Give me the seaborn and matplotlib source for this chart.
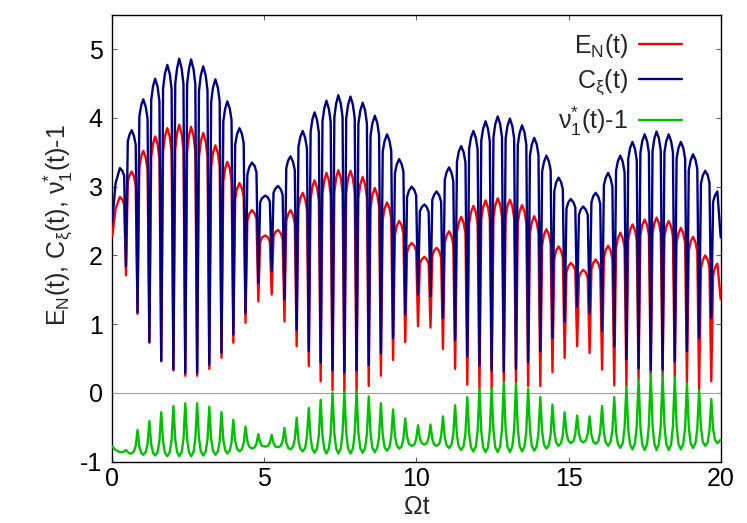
import numpy as np
import pandas as pd
import matplotlib
matplotlib.use('Agg')
import matplotlib.pyplot as plt
import seaborn as sns

# ---- data (x = Omega t) ----
# tops of the arches (C and E maxima, nu minima)
t_peak = [0.25, 0.64, 1.02, 1.41, 1.81, 2.20, 2.59, 2.99, 3.39, 3.78,
          4.18, 4.59, 5.03, 5.45, 5.86, 6.26, 6.65, 7.04, 7.43, 7.83,
          8.23, 8.63, 9.03, 9.43, 9.84, 10.26, 10.66, 11.07, 11.47, 11.87,
          12.27, 12.67, 13.07, 13.47, 13.87, 14.27, 14.67, 15.07, 15.48, 15.89,
          16.30, 16.70, 17.10, 17.50, 17.89, 18.29, 18.69, 19.09, 19.49, 19.89]
# narrow dips between the arches (C and E minima, nu spikes)
t_dip = [0.45, 0.83, 1.22, 1.61, 2.01, 2.40, 2.79, 3.19, 3.59, 3.98,
         4.38, 4.80, 5.24, 5.66, 6.06, 6.46, 6.85, 7.24, 7.63, 8.03,
         8.43, 8.83, 9.23, 9.63, 10.05, 10.46, 10.87, 11.27, 11.67, 12.07,
         12.47, 12.87, 13.27, 13.67, 14.07, 14.47, 14.87, 15.28, 15.69, 16.10,
         16.50, 16.90, 17.30, 17.70, 18.09, 18.49, 18.89, 19.29, 19.69]
# shoulders just left / right of each dip
t_left = [0.39, 0.77, 1.16, 1.55, 1.95, 2.34, 2.73, 3.13, 3.53, 3.92,
          4.32, 4.74, 5.18, 5.60, 6.00, 6.40, 6.79, 7.18, 7.57, 7.97,
          8.37, 8.77, 9.17, 9.57, 9.99, 10.40, 10.81, 11.21, 11.61, 12.01,
          12.41, 12.81, 13.21, 13.61, 14.01, 14.41, 14.81, 15.22, 15.63, 16.04,
          16.44, 16.84, 17.24, 17.64, 18.03, 18.43, 18.83, 19.23, 19.63]
t_right = [0.51, 0.89, 1.28, 1.67, 2.07, 2.46, 2.85, 3.25, 3.65, 4.04,
           4.44, 4.86, 5.30, 5.72, 6.12, 6.52, 6.91, 7.30, 7.69, 8.09,
           8.49, 8.89, 9.29, 9.69, 10.11, 10.52, 10.93, 11.33, 11.73, 12.13,
           12.53, 12.93, 13.33, 13.73, 14.13, 14.53, 14.93, 15.34, 15.75, 16.16,
           16.56, 16.96, 17.36, 17.76, 18.15, 18.55, 18.95, 19.35, 19.75]
# points further out from each dip, on the arch tops
t_outer_left = [0.33, 0.71, 1.10, 1.49, 1.89, 2.28, 2.67, 3.07, 3.47, 3.86,
                4.26, 4.68, 5.12, 5.54, 5.94, 6.34, 6.73, 7.12, 7.51, 7.91,
                8.31, 8.71, 9.11, 9.51, 9.93, 10.34, 10.75, 11.15, 11.55, 11.95,
                12.35, 12.75, 13.15, 13.55, 13.95, 14.35, 14.75, 15.16, 15.57, 15.98,
                16.38, 16.78, 17.18, 17.58, 17.97, 18.37, 18.77, 19.17, 19.57]
t_outer_right = [0.57, 0.95, 1.34, 1.73, 2.13, 2.52, 2.91, 3.31, 3.71, 4.10,
                 4.50, 4.92, 5.36, 5.78, 6.18, 6.58, 6.97, 7.36, 7.75, 8.15,
                 8.55, 8.95, 9.35, 9.75, 10.17, 10.58, 10.99, 11.39, 11.79, 12.19,
                 12.59, 12.99, 13.39, 13.79, 14.19, 14.59, 14.99, 15.40, 15.81, 16.22,
                 16.62, 17.02, 17.42, 17.82, 18.21, 18.61, 19.01, 19.41, 19.81]
t_edge = [0.0, 0.11, 20.0]

# C_xi(t)
C_peak = [3.27, 3.82, 4.27, 4.57, 4.77, 4.86, 4.85, 4.75, 4.56, 4.24,
          3.85, 3.35, 2.87, 3.01, 3.44, 3.81, 4.08, 4.25, 4.33, 4.31,
          4.22, 4.03, 3.76, 3.40, 3.00, 2.74, 2.93, 3.28, 3.59, 3.81,
          3.95, 4.02, 3.99, 3.89, 3.71, 3.45, 3.13, 2.82, 2.71, 2.91,
          3.20, 3.45, 3.65, 3.76, 3.80, 3.76, 3.65, 3.47, 3.23, 2.93]
C_dip = [1.84, 1.17, 0.74, 0.47, 0.34, 0.29, 0.29, 0.41, 0.58, 0.85,
         1.16, 1.60, 1.77, 1.36, 0.92, 0.61, 0.44, 0.33, 0.30, 0.33,
         0.41, 0.58, 0.80, 1.14, 1.43, 1.41, 1.09, 0.77, 0.53, 0.40,
         0.33, 0.31, 0.35, 0.45, 0.61, 0.80, 1.04, 1.26, 1.16, 0.90,
         0.68, 0.49, 0.36, 0.33, 0.34, 0.46, 0.61, 0.80, 1.09]
C_left = [3.16, 3.61, 3.99, 4.24, 4.42, 4.49, 4.49, 4.40, 4.24, 3.97,
          3.63, 3.21, 2.78, 2.88, 3.24, 3.55, 3.79, 3.94, 4.01, 3.99,
          3.92, 3.75, 3.52, 3.22, 2.87, 2.63, 2.78, 3.08, 3.35, 3.54,
          3.66, 3.72, 3.70, 3.61, 3.46, 3.24, 2.96, 2.70, 2.59, 2.75,
          3.00, 3.21, 3.39, 3.49, 3.52, 3.50, 3.41, 3.26, 3.06]
C_right = [3.66, 4.02, 4.26, 4.43, 4.50, 4.49, 4.39, 4.23, 3.95, 3.61,
           3.17, 2.77, 2.91, 3.27, 3.58, 3.80, 3.95, 4.01, 3.99, 3.91,
           3.74, 3.51, 3.19, 2.85, 2.64, 2.81, 3.10, 3.36, 3.55, 3.67,
           3.72, 3.70, 3.61, 3.45, 3.22, 2.94, 2.68, 2.59, 2.77, 3.02,
           3.23, 3.40, 3.49, 3.52, 3.50, 3.41, 3.24, 3.04, 2.78]
C_outer_left = [3.23, 3.74, 4.16, 4.45, 4.64, 4.72, 4.71, 4.62, 4.44, 4.14,
                3.77, 3.30, 2.84, 2.96, 3.36, 3.71, 3.97, 4.13, 4.21, 4.19,
                4.11, 3.93, 3.67, 3.33, 2.95, 2.70, 2.87, 3.20, 3.50, 3.71,
                3.84, 3.91, 3.88, 3.79, 3.62, 3.37, 3.07, 2.77, 2.66, 2.85,
                3.12, 3.36, 3.55, 3.66, 3.70, 3.66, 3.56, 3.39, 3.17]
C_outer_right = [3.76, 4.18, 4.46, 4.64, 4.72, 4.71, 4.62, 4.44, 4.13, 3.76,
                 3.28, 2.83, 2.97, 3.38, 3.72, 3.98, 4.14, 4.21, 4.19, 4.10,
                 3.92, 3.66, 3.32, 2.94, 2.70, 2.88, 3.21, 3.51, 3.71, 3.84,
                 3.91, 3.88, 3.78, 3.61, 3.36, 3.06, 2.77, 2.67, 2.86, 3.13,
                 3.37, 3.56, 3.66, 3.70, 3.66, 3.56, 3.38, 3.16, 2.87]
C_edge = [2.50, 3.05, 2.26]

# E_N(t)
E_peak = [2.85, 3.22, 3.52, 3.73, 3.85, 3.90, 3.87, 3.78, 3.60, 3.36,
          3.05, 2.66, 2.29, 2.37, 2.66, 2.91, 3.09, 3.20, 3.24, 3.23,
          3.14, 2.98, 2.77, 2.50, 2.18, 1.98, 2.11, 2.35, 2.56, 2.72,
          2.80, 2.83, 2.81, 2.73, 2.57, 2.38, 2.13, 1.89, 1.79, 1.94,
          2.14, 2.33, 2.45, 2.52, 2.55, 2.50, 2.40, 2.27, 2.00, 1.88]
E_dip = [1.71, 1.15, 0.73, 0.46, 0.33, 0.25, 0.25, 0.35, 0.51, 0.73,
         1.02, 1.33, 1.43, 1.04, 0.68, 0.39, 0.17, 0.04, 0.01, 0.01,
         0.10, 0.25, 0.48, 0.74, 0.97, 0.95, 0.64, 0.35, 0.12, 0.06,
         0.06, 0.17, 0.15, 0.10, 0.10, 0.30, 0.51, 0.68, 0.58, 0.34,
         0.11, 0.10, 0.19, 0.24, 0.24, 0.22, 0.15, 0.05, 0.17]
E_left = [2.74, 3.01, 3.24, 3.40, 3.50, 3.54, 3.51, 3.44, 3.29, 3.10,
          2.85, 2.53, 2.20, 2.24, 2.46, 2.66, 2.80, 2.88, 2.92, 2.91,
          2.84, 2.71, 2.54, 2.32, 2.06, 1.88, 1.96, 2.15, 2.32, 2.45,
          2.53, 2.56, 2.54, 2.47, 2.32, 2.17, 1.97, 1.77, 1.67, 1.78,
          1.94, 2.11, 2.22, 2.29, 2.32, 2.27, 2.18, 2.05, 1.82]
E_right = [3.07, 3.28, 3.43, 3.51, 3.54, 3.51, 3.43, 3.28, 3.08, 2.82,
           2.50, 2.19, 2.28, 2.50, 2.69, 2.82, 2.90, 2.92, 2.91, 2.83,
           2.69, 2.52, 2.30, 2.04, 1.88, 1.99, 2.18, 2.34, 2.46, 2.53,
           2.55, 2.55, 2.47, 2.32, 2.15, 1.95, 1.75, 1.68, 1.80, 1.96,
           2.11, 2.22, 2.29, 2.32, 2.27, 2.18, 2.06, 1.81, 1.71]
E_outer_left = [2.81, 3.15, 3.42, 3.62, 3.73, 3.77, 3.74, 3.66, 3.49, 3.27,
                2.98, 2.61, 2.26, 2.32, 2.59, 2.82, 2.99, 3.09, 3.13, 3.12,
                3.03, 2.88, 2.69, 2.44, 2.14, 1.94, 2.06, 2.28, 2.47, 2.63,
                2.70, 2.74, 2.72, 2.64, 2.48, 2.31, 2.07, 1.85, 1.75, 1.88,
                2.07, 2.25, 2.37, 2.44, 2.47, 2.42, 2.32, 2.19, 1.94]
E_outer_right = [3.17, 3.44, 3.62, 3.73, 3.78, 3.74, 3.66, 3.49, 3.26, 2.97,
                 2.60, 2.26, 2.34, 2.60, 2.83, 3.00, 3.09, 3.13, 3.12, 3.03,
                 2.88, 2.68, 2.43, 2.13, 1.94, 2.07, 2.29, 2.48, 2.63, 2.70,
                 2.73, 2.72, 2.64, 2.48, 2.30, 2.07, 1.84, 1.75, 1.89, 2.08,
                 2.25, 2.37, 2.44, 2.47, 2.42, 2.32, 2.20, 1.93, 1.82]
E_edge = [2.28, 2.68, 1.36]

# nu_1^*(t) - 1
nu_base = [-0.86, -0.88, -0.90, -0.91, -0.92, -0.92, -0.92, -0.91, -0.90, -0.88,
           -0.85, -0.81, -0.78, -0.79, -0.82, -0.85, -0.87, -0.88, -0.88, -0.88,
           -0.87, -0.86, -0.84, -0.81, -0.77, -0.75, -0.77, -0.80, -0.83, -0.85,
           -0.86, -0.86, -0.86, -0.85, -0.84, -0.81, -0.77, -0.73, -0.72, -0.74,
           -0.77, -0.80, -0.82, -0.83, -0.83, -0.83, -0.82, -0.80, -0.77, -0.73]
nu_spike = [-0.83, -0.54, -0.41, -0.28, -0.19, -0.15, -0.15, -0.20, -0.28, -0.39,
            -0.49, -0.60, -0.61, -0.51, -0.36, -0.22, -0.10, 0.00, 0.02, 0.02,
            -0.05, -0.15, -0.24, -0.37, -0.47, -0.46, -0.34, -0.18, -0.06, 0.06,
            0.07, 0.15, 0.14, 0.06, -0.06, -0.17, -0.28, -0.33, -0.34, -0.19,
            -0.06, 0.09, 0.20, 0.27, 0.27, 0.23, 0.14, 0.04, -0.09]
nu_left = [-0.85, -0.77, -0.74, -0.70, -0.68, -0.67, -0.67, -0.68, -0.70, -0.72,
           -0.73, -0.74, -0.72, -0.70, -0.67, -0.64, -0.62, -0.59, -0.58, -0.58,
           -0.60, -0.63, -0.64, -0.66, -0.67, -0.65, -0.63, -0.60, -0.58, -0.55,
           -0.55, -0.53, -0.53, -0.55, -0.58, -0.60, -0.61, -0.60, -0.59, -0.56,
           -0.54, -0.51, -0.48, -0.47, -0.47, -0.48, -0.50, -0.52, -0.55]
nu_right = [-0.86, -0.78, -0.75, -0.71, -0.68, -0.67, -0.66, -0.67, -0.68, -0.70,
            -0.70, -0.72, -0.73, -0.72, -0.69, -0.66, -0.62, -0.59, -0.58, -0.58,
            -0.59, -0.61, -0.62, -0.64, -0.66, -0.67, -0.65, -0.62, -0.59, -0.56,
            -0.55, -0.53, -0.52, -0.54, -0.56, -0.57, -0.58, -0.59, -0.61, -0.58,
            -0.56, -0.52, -0.49, -0.47, -0.47, -0.47, -0.49, -0.50, -0.52]
nu_outer_left = [-0.86, -0.85, -0.86, -0.86, -0.86, -0.86, -0.86, -0.85, -0.85, -0.84,
                 -0.82, -0.79, -0.77, -0.77, -0.78, -0.80, -0.81, -0.81, -0.81, -0.81,
                 -0.80, -0.80, -0.79, -0.78, -0.75, -0.73, -0.74, -0.75, -0.77, -0.78,
                 -0.79, -0.78, -0.78, -0.78, -0.78, -0.76, -0.73, -0.70, -0.69, -0.70,
                 -0.71, -0.73, -0.74, -0.74, -0.74, -0.75, -0.74, -0.73, -0.72]
nu_outer_right = [-0.88, -0.87, -0.87, -0.87, -0.86, -0.86, -0.85, -0.84, -0.83, -0.81,
                  -0.78, -0.77, -0.78, -0.80, -0.81, -0.82, -0.82, -0.81, -0.81, -0.80,
                  -0.80, -0.79, -0.76, -0.74, -0.73, -0.75, -0.76, -0.78, -0.79, -0.79,
                  -0.79, -0.78, -0.77, -0.77, -0.75, -0.72, -0.69, -0.69, -0.71, -0.72,
                  -0.74, -0.75, -0.75, -0.74, -0.74, -0.74, -0.73, -0.71, -0.68]
nu_edge = [-0.78, -0.83, -0.68]

# ---- long table for seaborn ----
t_all = np.concatenate([t_edge, t_peak, t_dip, t_left, t_right, t_outer_left, t_outer_right])
frames = [
    pd.DataFrame({'t': t_all, 'series': 'E',
                  'value': np.concatenate([E_edge, E_peak, E_dip, E_left, E_right,
                                           E_outer_left, E_outer_right])}),
    pd.DataFrame({'t': t_all, 'series': 'C',
                  'value': np.concatenate([C_edge, C_peak, C_dip, C_left, C_right,
                                           C_outer_left, C_outer_right])}),
    pd.DataFrame({'t': t_all, 'series': 'nu',
                  'value': np.concatenate([nu_edge, nu_base, nu_spike, nu_left, nu_right,
                                           nu_outer_left, nu_outer_right])}),
]
df = pd.concat(frames, ignore_index=True)

colors = {'E': '#ff0000', 'C': '#000080', 'nu': '#00c000'}
labels = {'E': r'E$_{\mathrm{N}}$(t)',
          'C': r'C$_{\mathrm{ξ}}$(t)',
          'nu': r'ν$_{1}^{*}$(t)-1'}

sns.set_theme(style='ticks')
plt.rcParams['font.family'] = ['Liberation Sans', 'DejaVu Sans']
plt.rcParams['mathtext.fontset'] = 'custom'
plt.rcParams['mathtext.rm'] = 'Liberation Sans'
plt.rcParams['mathtext.it'] = 'Liberation Sans:italic'
plt.rcParams['mathtext.sf'] = 'Liberation Sans'
plt.rcParams['axes.unicode_minus'] = False

fig = plt.figure(figsize=(7.47, 5.23), dpi=100)
ax = fig.add_axes([0.1503, 0.1172, 0.8145, 0.8547])

# zero axis
ax.axhline(0, color='#a0a0a0', lw=0.8, zorder=1)

sns.lineplot(data=df, x='t', y='value', hue='series', hue_order=['E', 'C', 'nu'],
             palette=colors, sort=True, estimator=None, linewidth=1.7,
             legend=False, ax=ax, zorder=3)

ax.set_xlim(0, 20)
ax.set_ylim(-1, 5.5)
ax.set_xticks([0, 5, 10, 15, 20])
ax.set_yticks([-1, 0, 1, 2, 3, 4, 5])
ax.tick_params(direction='in', length=3.6, width=0.8, color='#606060',
               top=True, right=True, labelsize=18, labelcolor='black')
ax.tick_params(axis='y', pad=7)
ax.tick_params(axis='x', pad=4)
for s in ax.spines.values():
    s.set_color('black')
    s.set_linewidth(1.0)

ax.set_xlabel('Ωt', fontsize=18, labelpad=3)
ax.set_ylabel(r'E$_{\mathrm{N}}$(t), C$_{\mathrm{ξ}}$(t), ν$_{1}^{*}$(t)-1', fontsize=18)
ax.yaxis.set_label_coords(-0.062, 0.53)

handles = [plt.Line2D([], [], color=colors[k], lw=1.7) for k in ['E', 'C', 'nu']]
ax.legend(handles, [labels[k] for k in ['E', 'C', 'nu']], loc='upper right',
          bbox_to_anchor=(0.936, 0.962), frameon=False, markerfirst=False,
          fontsize=18, handlelength=1.7, handletextpad=0.45, labelspacing=0.3,
          borderaxespad=0, borderpad=0)

fig.savefig('out.png', dpi=100)
